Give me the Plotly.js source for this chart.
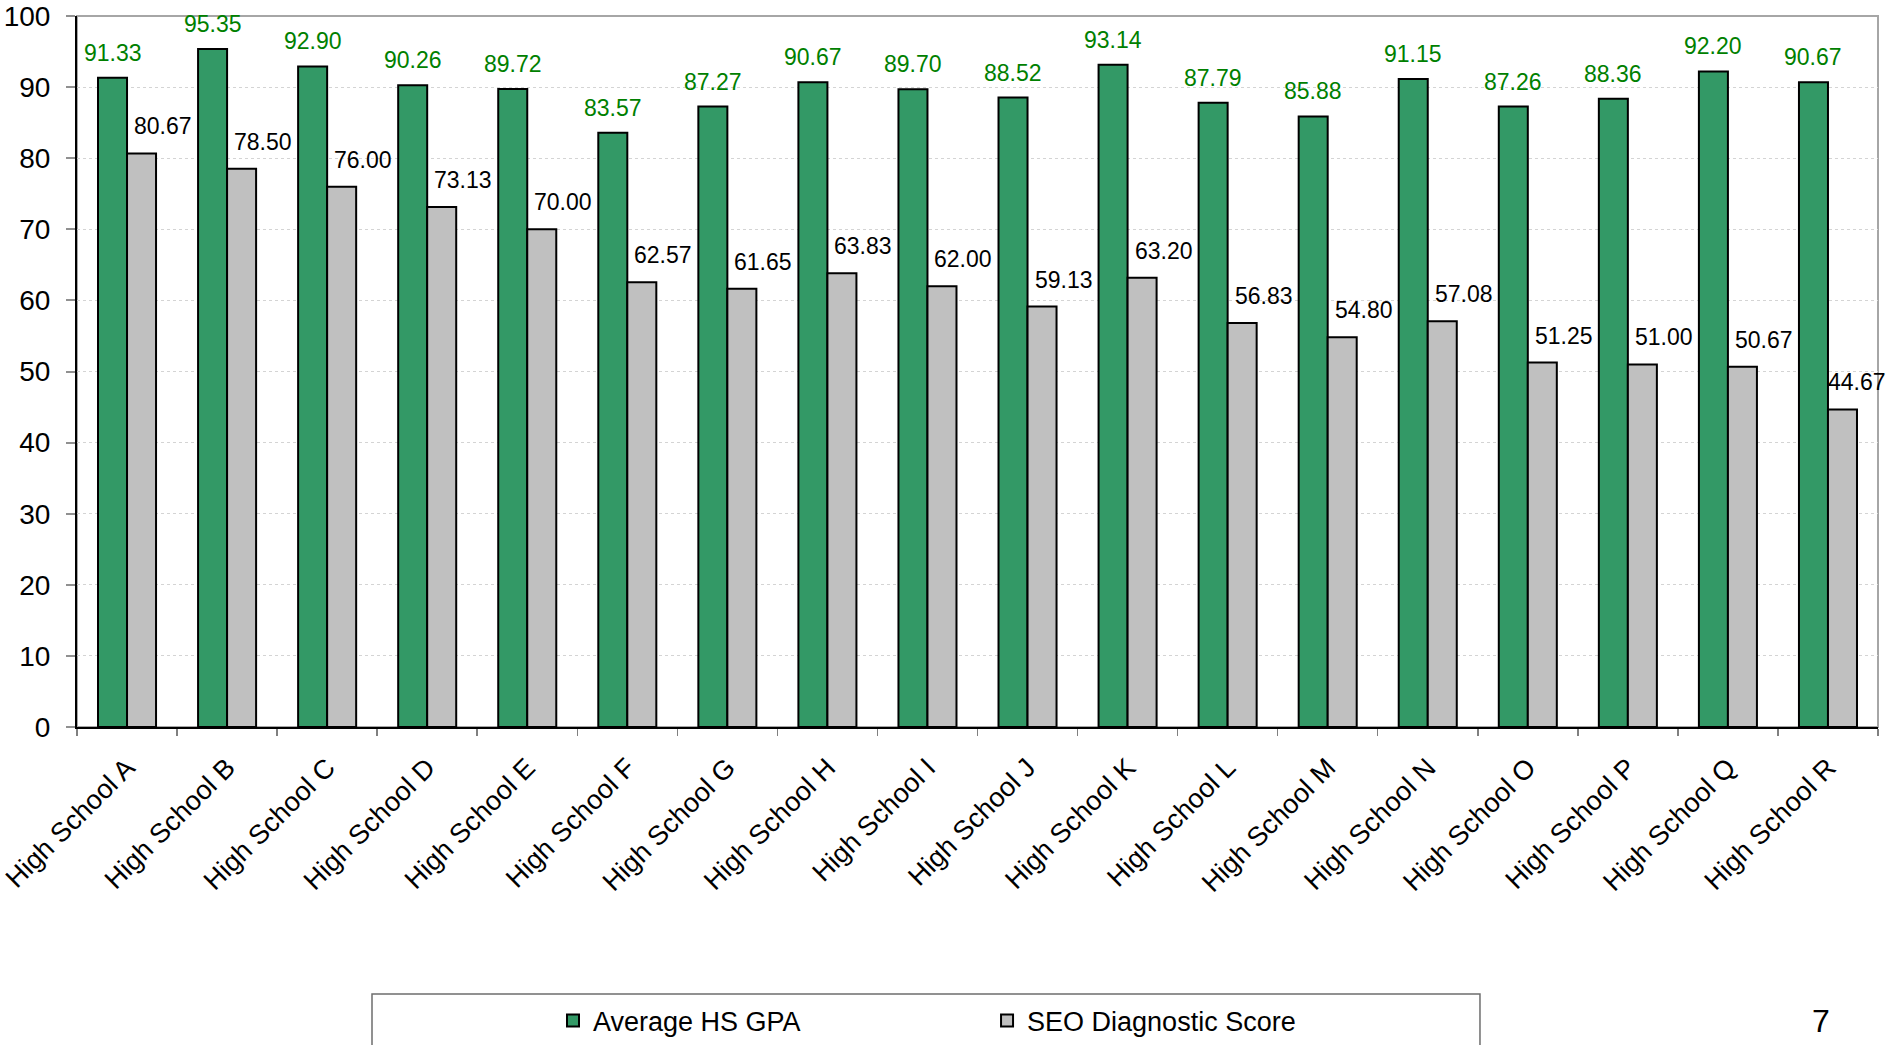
<!DOCTYPE html>
<html>
<head>
<meta charset="utf-8">
<script src="https://cdn.plot.ly/plotly-3.0.1.min.js"></script>
<style>
  html, body { margin: 0; padding: 0; background: #ffffff; }
  #chart { width: 1888px; height: 1045px; }
</style>
</head>
<body>
<div id="chart"></div>
<script>
// School names along the category axis
const schools = [
  "High School A", "High School B", "High School C", "High School D", "High School E",
  "High School F", "High School G", "High School H", "High School I", "High School J",
  "High School K", "High School L", "High School M", "High School N", "High School O",
  "High School P", "High School Q", "High School R"
];

// Average high-school GPA per school
const gpa = [
  91.33, 95.35, 92.90, 90.26, 89.72, 83.57, 87.27, 90.67, 89.70,
  88.52, 93.14, 87.79, 85.88, 91.15, 87.26, 88.36, 92.20, 90.67
];

// SEO diagnostic score per school
const seo = [
  80.67, 78.50, 76.00, 73.13, 70.00, 62.57, 61.65, 63.83, 62.00,
  59.13, 63.20, 56.83, 54.80, 57.08, 51.25, 51.00, 50.67, 44.67
];

const seriesNames = ["Average HS GPA", "SEO Diagnostic Score"];
const pageNumber = "7";

const FONT = "Liberation Sans, Arial, Helvetica, sans-serif";
const GREEN = "#339966";
const GREY = "#c0c0c0";
const LABEL_GREEN = "#008000";

const traces = [
  {
    type: "bar",
    name: seriesNames[0],
    x: schools,
    y: gpa,
    marker: { color: GREEN, line: { color: "#000000", width: 2 } },
    legend: "legend",
    hoverinfo: "x+y"
  },
  {
    type: "bar",
    name: seriesNames[1],
    x: schools,
    y: seo,
    marker: { color: GREY, line: { color: "#000000", width: 2 } },
    legend: "legend2",
    hoverinfo: "x+y"
  }
];

// Value labels above each bar
const annotations = [];
schools.forEach((s, i) => {
  annotations.push({
    x: s, y: gpa[i], xref: "x", yref: "y",
    text: gpa[i].toFixed(2),
    showarrow: false, xanchor: "center", yanchor: "bottom",
    xshift: -14.5, yshift: 10,
    font: { family: FONT, size: 23, color: LABEL_GREEN }
  });
  // the right-most score label is nudged in so it stays on the page
  const greyShift = i === schools.length - 1 ? 29 : 36;
  annotations.push({
    x: s, y: seo[i], xref: "x", yref: "y",
    text: seo[i].toFixed(2),
    showarrow: false, xanchor: "center", yanchor: "bottom",
    xshift: greyShift, yshift: 12,
    font: { family: FONT, size: 23, color: "#000000" }
  });
});

// Page number in the bottom-right corner
annotations.push({
  x: 0.9684, y: -0.4142, xref: "paper", yref: "paper",
  text: pageNumber, showarrow: false,
  xanchor: "center", yanchor: "middle",
  font: { family: FONT, size: 32, color: "#000000" }
});

const layout = {
  width: 1888,
  height: 1045,
  margin: { l: 77, r: 10, t: 16, b: 318, pad: 0, autoexpand: false },
  paper_bgcolor: "#ffffff",
  plot_bgcolor: "#ffffff",
  font: { family: FONT, color: "#000000" },
  barmode: "group",
  bargap: 0.42,
  bargroupgap: 0,
  showlegend: true,
  xaxis: {
    type: "category",
    range: [-0.5, schools.length - 0.5],
    autorange: false,
    automargin: false,
    tickson: "boundaries",
    ticks: "outside",
    ticklen: 7,
    tickwidth: 1.5,
    tickcolor: "#808080",
    ticklabelstandoff: 12,
    showline: true,
    linecolor: "#000000",
    linewidth: 2,
    showgrid: false,
    tickangle: -45,
    tickfont: { family: FONT, size: 27, color: "#000000" },
    fixedrange: true
  },
  yaxis: {
    range: [0, 100],
    autorange: false,
    dtick: 10,
    tick0: 0,
    automargin: false,
    ticks: "outside",
    ticklen: 9,
    tickwidth: 2,
    tickcolor: "#909090",
    ticklabelstandoff: 10,
    showline: true,
    linecolor: "#000000",
    linewidth: 2,
    showgrid: true,
    gridcolor: "#d4d4d4",
    gridwidth: 1,
    griddash: "dot",
    zeroline: false,
    tickfont: { family: FONT, size: 28, color: "#000000" },
    fixedrange: true
  },
  legend: {
    orientation: "h",
    x: 0.2643, xanchor: "left",
    y: -0.4135, yanchor: "middle",
    bgcolor: "rgba(0,0,0,0)",
    borderwidth: 0,
    font: { family: FONT, size: 27, color: "#000000" }
  },
  legend2: {
    orientation: "h",
    x: 0.5053, xanchor: "left",
    y: -0.4135, yanchor: "middle",
    bgcolor: "rgba(0,0,0,0)",
    borderwidth: 0,
    font: { family: FONT, size: 27, color: "#000000" }
  },
  shapes: [
    // plot-area frame (top and right edges show in grey)
    {
      type: "rect", xref: "paper", yref: "paper",
      x0: 0, x1: 1, y0: 0, y1: 1,
      line: { color: "#a6a6a6", width: 2 },
      fillcolor: "rgba(0,0,0,0)", layer: "below"
    },
    // legend frame, running off the bottom edge
    {
      type: "rect", xref: "paper", yref: "paper",
      x0: 0.1638, x1: 0.779, y0: -0.48, y1: -0.3755,
      line: { color: "#6e6e6e", width: 1.5 },
      fillcolor: "rgba(0,0,0,0)", layer: "below"
    }
  ],
  annotations: annotations
};

Plotly.newPlot("chart", traces, layout, { displayModeBar: false, staticPlot: true });
</script>
</body>
</html>
